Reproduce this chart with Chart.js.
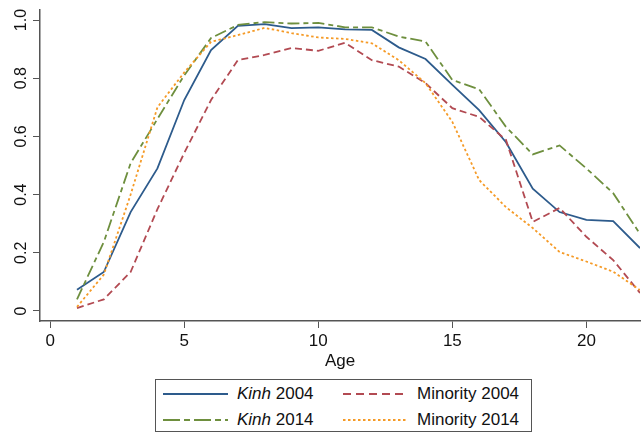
<!DOCTYPE html>
<html>
<head>
<meta charset="utf-8">
<script src="https://cdn.jsdelivr.net/npm/chart.js@4/dist/chart.umd.min.js"></script>
<style>
  html, body { margin: 0; padding: 0; background: #fff; }
  #wrap { position: relative; width: 642px; height: 433px; overflow: hidden; font-family: "Liberation Sans", Arial, sans-serif; }
  #box { position: absolute; left: 0; top: 0; width: 642px; height: 374px; }
  #legend { position: absolute; left: 155px; top: 379px; width: 377px; height: 53px; border: 1px solid #555; box-sizing: border-box; }
  .item { position: absolute; height: 20px; display: flex; align-items: center; font-size: 17px; color: #111; white-space: nowrap; }
  .item svg { margin-right: 9px; }
</style>
</head>
<body>
<div id="wrap">
  <div id="box"><canvas id="c"></canvas></div>
  <div id="legend"></div>
</div>
<script>
const ages = [1,2,3,4,5,6,7,8,9,10,11,12,13,14,15,16,17,18,19,20,21,22];
const kinh2004 = [0.073,0.134,0.34,0.49,0.725,0.897,0.98,0.986,0.972,0.975,0.968,0.966,0.906,0.866,0.777,0.69,0.58,0.42,0.34,0.313,0.309,0.216];
const kinh2014 = [0.04,0.237,0.508,0.66,0.81,0.938,0.983,0.993,0.988,0.99,0.975,0.975,0.943,0.926,0.794,0.762,0.633,0.538,0.569,0.49,0.405,0.265];
const minority2004 = [0.01,0.04,0.134,0.35,0.543,0.725,0.862,0.88,0.904,0.894,0.922,0.862,0.84,0.783,0.697,0.667,0.588,0.306,0.354,0.255,0.175,0.062];
const minority2014 = [0.014,0.125,0.4,0.70,0.82,0.925,0.948,0.973,0.955,0.94,0.935,0.92,0.862,0.783,0.65,0.45,0.357,0.285,0.203,0.17,0.135,0.072];
const xTicks = [0,5,10,15,20];
const yTicks = [0,0.2,0.4,0.6,0.8,1.0];
const seriesNames = ["Kinh 2004","Kinh 2014","Minority 2004","Minority 2014"];

const colors = ["#2d5b8c","#6e8f3e","#b24a52","#f59a26"];
const dashes = [[],[12,4,5,4],[7,4],[2.5,2.5]];
const legendDashes = [[],[17,4,6,4],[8,5],[2.5,2.5]];
const allData = [kinh2004, kinh2014, minority2004, minority2014];

const datasets = allData.map((arr,i)=>({
  label: seriesNames[i],
  data: ages.map((a,j)=>({x:a, y:arr[j]})),
  borderColor: colors[i],
  borderWidth: 1.8,
  borderDash: dashes[i],
  pointRadius: 0,
  fill: false,
  tension: 0,
  order: 4-i
}));

const axisColor = "#555";
new Chart(document.getElementById('c'), {
  type: 'line',
  data: { datasets },
  options: {
    responsive: true,
    maintainAspectRatio: false,
    animation: false,
    layout: { padding: { left: 0, right: 2, top: 10, bottom: 0 } },
    plugins: { legend: { display: false }, tooltip: { enabled: false } },
    scales: {
      x: {
        type: 'linear', min: -0.38, max: 22,
        grid: { display: true, drawOnChartArea: false, drawTicks: true, tickLength: 7, color: axisColor, lineWidth: 1 },
        border: { display: true, color: axisColor, width: 1.5 },
        ticks: { font: { family: "Liberation Sans", size: 17 }, color: "#111", padding: 3, maxRotation: 0, minRotation: 0, autoSkip: false,
                 callback: v => String(v) },
        afterBuildTicks: s => { s.ticks = xTicks.map(v=>({value:v})); },
        afterFit: s => { s.height = 53; },
        title: { display: true, text: 'Age', font: { family: "Liberation Sans", size: 17 }, color: "#111", padding: { top: 0, bottom: 2 } }
      },
      y: {
        type: 'linear', min: -0.0344, max: 1.0344,
        grid: { display: true, drawOnChartArea: false, drawTicks: true, tickLength: 7, color: axisColor, lineWidth: 1 },
        border: { display: true, color: axisColor, width: 1.5 },
        ticks: { font: { family: "Liberation Sans", size: 16 }, color: "#111", padding: 0, minRotation: 90, maxRotation: 90, crossAlign: 'center', autoSkip: false,
                 callback: v => (v === 0 ? "0" : Number(v).toFixed(1)) },
        afterBuildTicks: s => { s.ticks = yTicks.map(v=>({value:v})); },
        afterFit: s => { s.width = 40; }
      }
    }
  }
});

// HTML legend
const legend = document.getElementById('legend');
const pos = [[7,4],[7,30],[187,4],[187,30]];
seriesNames.forEach((name,i)=>{
  const d = document.createElement('div');
  d.className = 'item';
  d.style.left = pos[i][0] + 'px';
  d.style.top = pos[i][1] + 'px';
  const svg = `<svg width="65" height="6"><line x1="0" y1="3" x2="65" y2="3" stroke="${colors[i]}" stroke-width="1.8" stroke-dasharray="${legendDashes[i].join(',') || 'none'}"/></svg>`;
  const parts = name.split(' ');
  const label = parts[0] === 'Kinh' ? `<i>Kinh</i>&nbsp;${parts[1]}` : name;
  d.innerHTML = svg + `<span>${label}</span>`;
  legend.appendChild(d);
});
</script>
</body>
</html>
